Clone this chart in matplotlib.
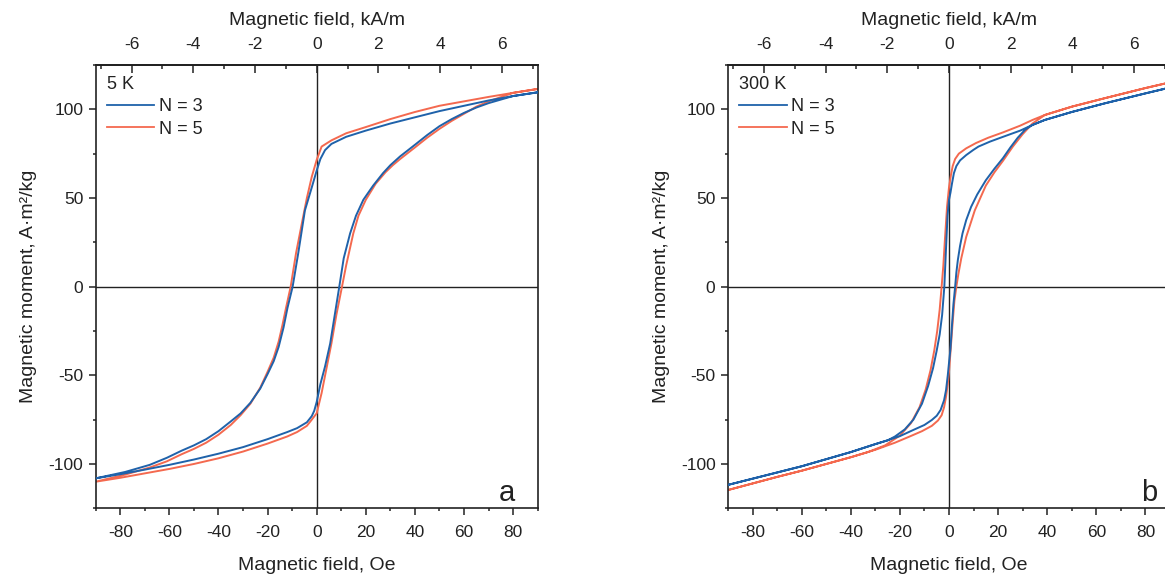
import numpy as np
import matplotlib
matplotlib.use('Agg')
from matplotlib import pyplot as plt
from matplotlib.ticker import MultipleLocator, FixedLocator

plt.rcParams['font.family'] = 'Liberation Sans'
plt.rcParams['axes.unicode_minus'] = False
plt.rcParams['text.color'] = '#222222'
plt.rcParams['axes.labelcolor'] = '#222222'
plt.rcParams['xtick.color'] = '#222222'
plt.rcParams['ytick.color'] = '#222222'

# ---- 5 K loops (field in Oe, moment in A*m2/kg) ----
h5_n3_down = [90, 80, 70, 60, 50, 40, 30, 20, 12, 6, 3.4, 1.5, 0, -2, -4.8, -7.5, -9.8,
              -11.9, -13.5, -15.5, -17.5, -19.9, -23, -27, -31, -35, -40, -45, -50, -55,
              -61, -68, -78, -90]
m5_n3_down = [109.6, 107.5, 105, 102, 99, 95.5, 92, 88, 84.5, 80.5, 77, 72, 65.5, 56, 43, 19, 0,
              -12, -23, -34, -42, -49, -57.5, -65.5, -71.5, -76, -81.5, -86, -89.5, -92.5,
              -96.5, -100.5, -104.5, -108.1]
h5_n3_up = [-90, -80, -70, -60, -50, -40, -30, -20, -12, -8, -4, -2, -1, 0, 1.5, 3.4, 5.5, 7,
            9.2, 11, 13.6, 16, 19, 23, 27, 30, 34, 40, 45, 50, 55, 60, 65, 70, 80, 90]
m5_n3_up = [-108.1, -105.8, -103.2, -100.5, -97.5, -94.2, -90.5, -86, -82, -79.8, -76.5, -73,
            -70, -65, -55, -45, -32, -19, 0, 16, 30, 40, 49, 57, 64, 68.5, 73.5, 80, 85.5, 90.5,
            94.5, 98, 101, 103.5, 107.5, 109.6]

h5_n5_down = [90, 80, 70, 60, 50, 40, 30, 20, 12, 6, 2, 0, -2, -4, -6, -8.4, -10.6,
              -12.5, -14, -15.5, -17.5, -20, -23, -27, -31, -35, -40, -45, -50, -55, -61,
              -68, -78, -90]
m5_n5_down = [111.5, 109.3, 107, 104.5, 102, 98.5, 94.5, 90, 86.5, 82.5, 79, 71.5, 62, 50, 36, 19, 0,
              -12, -22, -31, -40, -48, -57, -66, -72.5, -78, -83.5, -88, -91.5, -94.5, -98.5,
              -102, -106, -110]
h5_n5_up = [-90, -80, -70, -60, -50, -40, -30, -20, -12, -8, -4, -2, 0, 2, 4, 6, 8, 10.3,
            12, 14.9, 17, 20, 24, 28, 31, 34, 40, 45, 50, 55, 60, 65, 70, 80, 90]
m5_n5_up = [-110, -107.8, -105.3, -102.8, -100, -96.8, -93, -88.5, -84.5, -82, -78.5, -75, -71.4,
            -60, -46, -32, -16, 0, 12, 30, 40, 49, 58, 64.5, 68.5, 72, 78.5, 84, 89, 93.5, 97.5,
            101.5, 104.5, 109.3, 111.5]

# ---- 300 K loops ----
h300_n3_down = [90, 80, 63.5, 50, 39, 34, 29, 22, 16.7, 12, 9.9, 7, 4.5, 3, 2, 1.2, 0.6, 0,
                -0.6, -1.2, -1.9, -2.8, -3.8, -5, -6.5, -8.5, -11, -14.5, -18, -22, -25,
                -30, -40, -50, -60, -70, -80, -90]
m300_n3_down = [112.3, 109, 103.4, 98.5, 94, 91.2, 88, 84.5, 81.8, 79, 77.1, 74.2, 71.2, 68,
                64, 58, 53, 49, 40, 22, 0, -16, -27, -36, -46, -56, -66, -75, -80.5, -84.5,
                -86.7, -88.8, -93.3, -97.3, -101.3, -104.8, -108.3, -111.8]
h300_n3_up = [-90, -80, -70, -60, -50, -40, -30, -24.7, -20, -14.5, -10, -7, -5, -3.4, -2,
              -1.2, -0.5, 0, 0.6, 1.2, 1.8, 2.5, 3.0, 3.6, 4.5, 5.5, 7, 9, 11.5, 15, 18.5,
              22, 25, 28, 31, 34, 39, 50, 63.5, 80, 90]
m300_n3_up = [-111.8, -108.3, -104.8, -101.3, -97.3, -93.3, -88.8, -86.5, -84.3, -80.8, -78,
              -75.2, -72.8, -69.5, -64, -58.3, -50, -43, -35, -22, -10, 0, 8, 15, 23, 30,
              37.5, 45, 52, 60, 66.5, 72.5, 78.5, 84, 88.5, 91.2, 94, 98.5, 103.4, 109, 112.3]

h300_n5_down = [90, 80, 63.5, 50, 39, 34, 29, 22, 16, 11, 7, 4, 2.5, 1.5, 0.8, 0, -0.8, -1.6,
                -2.3, -3.0, -3.8, -4.8, -6, -7.5, -9.5, -12, -15.5, -20, -26, -33, -40, -50,
                -60, -70, -80, -90]
m300_n5_down = [115.2, 112, 106.3, 101.5, 96.8, 94, 90.8, 87, 84, 81, 78, 75, 72, 68, 63, 56,
                45, 28, 12, 0, -13, -25, -36, -47, -58, -68, -77, -84, -89.5, -93.3, -96.2,
                -100, -103.8, -107.3, -111, -114.7]
h300_n5_up = [-90, -80, -70, -60, -50, -40, -30, -22, -16, -11, -7, -4.5, -3, -2, -1.2, -0.5,
              0, 0.7, 1.5, 2.2, 3.0, 3.8, 5, 7, 10.5, 15, 18.5, 22, 26, 30, 34, 39, 50, 63.5,
              80, 90]
m300_n5_up = [-114.7, -111, -107.3, -103.8, -100, -96.2, -92, -88, -84.5, -81.5, -78.5, -75.5,
              -72.5, -68, -62, -55, -48, -35, -20, -8, 0, 7, 16, 28, 43, 57, 64.5, 71, 79,
              86, 92, 96.8, 101.5, 106.3, 112, 115.2]

ka_ticks = [-6, -4, -2, 0, 2, 4, 6]
ka_minor = [-7, -5, -3, -1, 1, 3, 5, 7]

panels = [
    ('5 K', 'a', (h5_n3_down + h5_n3_up, m5_n3_down + m5_n3_up),
     (h5_n5_down + h5_n5_up, m5_n5_down + m5_n5_up)),
    ('300 K', 'b', (h300_n3_down + h300_n3_up, m300_n3_down + m300_n3_up),
     (h300_n5_down + h300_n5_up, m300_n5_down + m300_n5_up)),
]

BLUE = '#1f62aa'
RED = '#f4694f'
OE_TO_KAM = 1000 / (4 * np.pi) / 1000  # 1 Oe = 79.577 A/m


def oe2ka(x):
    return np.asarray(x) * OE_TO_KAM


def ka2oe(x):
    return np.asarray(x) / OE_TO_KAM


fig = plt.figure(figsize=(11.65, 5.75), dpi=100)
lefts = [95.7 / 1165, 728.0 / 1165]

for (temp, letter, n3, n5), left in zip(panels, lefts):
    ax = fig.add_axes([left, 66.7 / 575, 442 / 1165, 443.3 / 575])
    ax.axhline(0, color='#222222', lw=1.0, zorder=1)
    ax.axvline(0, color='#222222', lw=1.0, zorder=1)
    l5, = ax.plot(n5[0], n5[1], color=RED, lw=1.4, zorder=2)
    l3, = ax.plot(n3[0], n3[1], color=BLUE, lw=1.4, zorder=3)

    ax.set_xlim(-90, 90)
    ax.set_ylim(-125, 125)
    ax.xaxis.set_major_locator(MultipleLocator(20))
    ax.xaxis.set_minor_locator(MultipleLocator(10))
    ax.yaxis.set_major_locator(MultipleLocator(50))
    ax.yaxis.set_minor_locator(MultipleLocator(25))
    ax.tick_params(which='both', direction='out', top=False, right=False, labelsize=12.5, width=1.1)
    ax.tick_params(which='major', length=5)
    ax.tick_params(which='minor', length=2.5)
    ax.tick_params(axis='x', pad=7)
    ax.tick_params(axis='y', pad=4)
    for sp in ax.spines.values():
        sp.set_linewidth(1.2)
        sp.set_color('#222222')

    sec = ax.secondary_xaxis('top', functions=(oe2ka, ka2oe))
    sec.xaxis.set_major_locator(FixedLocator(ka_ticks))
    sec.xaxis.set_minor_locator(FixedLocator(ka_minor))
    sec.tick_params(which='both', direction='in', labelsize=12.5, width=1.1, pad=9)
    sec.tick_params(which='major', length=6)
    sec.tick_params(which='minor', length=3)
    sec.spines['top'].set_linewidth(1.2)
    sec.set_xlabel('Magnetic field, kA/m', fontsize=14, labelpad=9)

    ax.set_xlabel('Magnetic field, Oe', fontsize=14, labelpad=12)
    ax.set_ylabel('Magnetic moment, A·m²/kg', fontsize=14, labelpad=8)

    leg = ax.legend([l3, l5], ['N = 3', 'N = 5'], title=temp, loc='upper left', frameon=False,
                    fontsize=13, title_fontsize=13, alignment='left', handlelength=2.65,
                    handletextpad=0.25, labelspacing=0.3, borderaxespad=0.2, borderpad=0.4)
    for h in leg.legend_handles:
        h.set_linewidth(1.3)

    ax.text(0.93 if letter == 'a' else 0.952, 0.016, letter, transform=ax.transAxes,
            fontsize=21, ha='center', va='baseline')

fig.savefig('out.png', dpi=100)
